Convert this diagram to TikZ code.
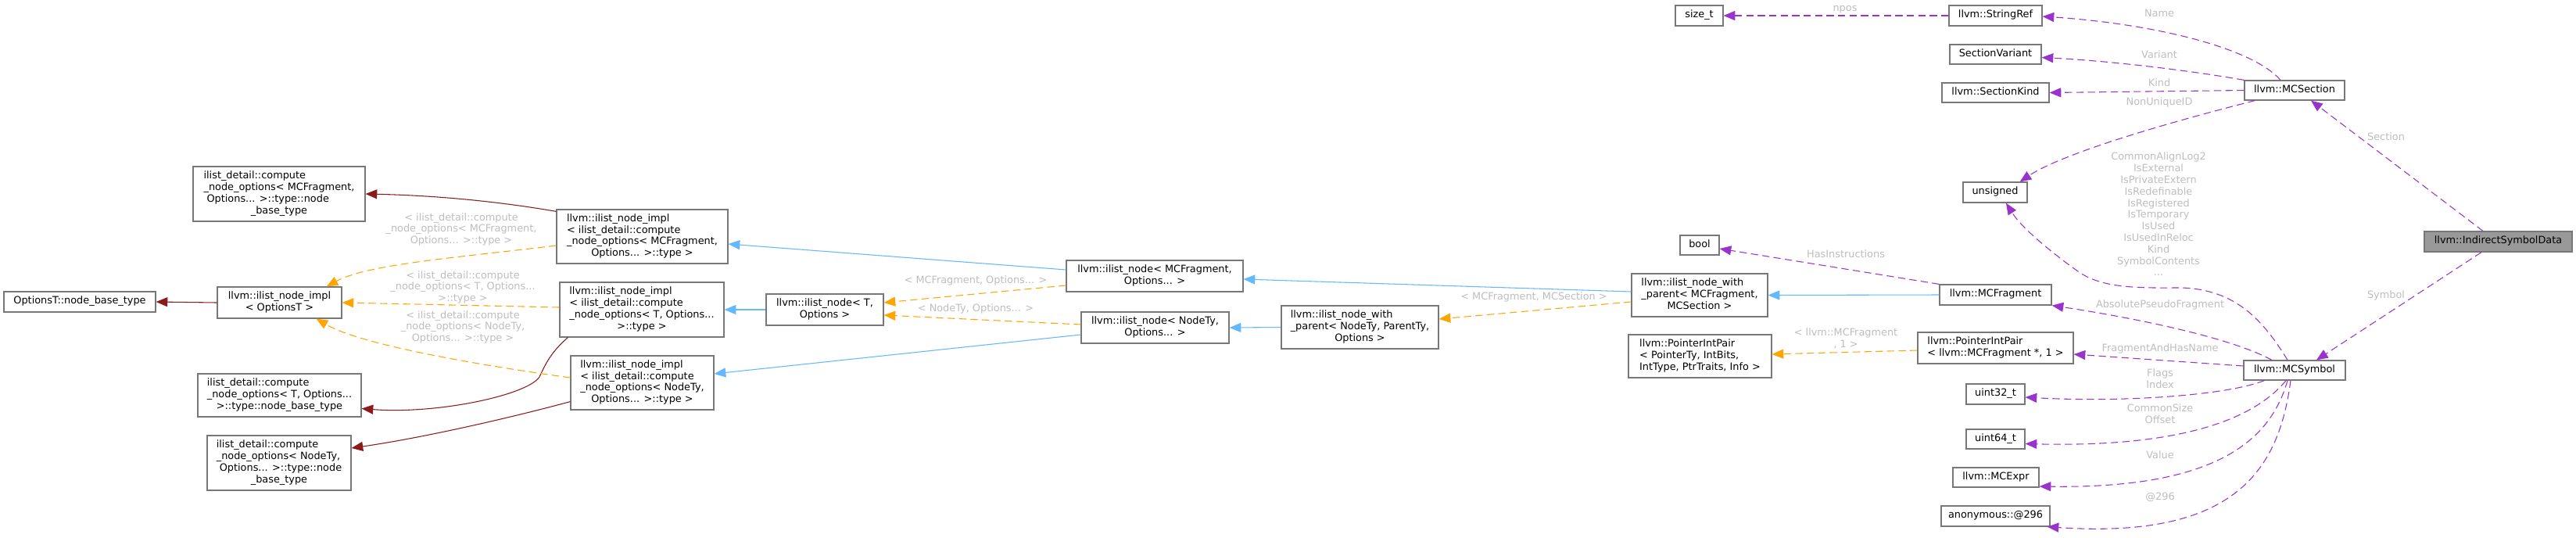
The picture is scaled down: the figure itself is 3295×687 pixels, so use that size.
\documentclass[tikz,border=0pt]{standalone}
\usepackage{fontspec}
\setmainfont{DejaVu Sans}
\usetikzlibrary{arrows.meta,calc}
\definecolor{bord}{HTML}{777777}
\definecolor{redE}{HTML}{8B1A1A}
\definecolor{blueE}{HTML}{63B8FF}
\definecolor{orangeE}{HTML}{FFA500}
\definecolor{purpleE}{HTML}{9A32CD}
\definecolor{labG}{HTML}{BEBEBE}
\definecolor{focus}{HTML}{999999}
\newcommand\dgfont{\fontsize{9.65}{11.1}\selectfont}
\newcommand\dlbl[2]{\begin{tabular}{@{}l@{}}#1\\\multicolumn{1}{@{}c@{}}{#2}\end{tabular}}
\newcommand\dctr[1]{\begin{tabular}{@{}c@{}}#1\end{tabular}}
\begin{document}
\begin{tikzpicture}[x=0.75pt,y=-0.75pt,font=\dgfont,
  box/.style={draw=bord, line width=0.9pt, fill=white, inner sep=0pt, align=center},
  wh/.style 2 args={minimum width={#1*0.75pt}, minimum height={#2*0.75pt}},
  lab/.style={text=labG, inner sep=0pt},
  edge/.style={line width=0.8pt, -{Triangle[length=11pt,width=9pt]}},
  er/.style={edge, draw=redE},
  eb/.style={edge, draw=blueE},
  eo/.style={edge, draw=orangeE, dash pattern=on 7pt off 4pt},
  ep/.style={edge, draw=purpleE, dash pattern=on 7pt off 4pt}]
\fill[white] (0,0) rectangle (3295,687);
\useasboundingbox (0,0) rectangle (3295,687);

% nodes
\node[box, wh={194}{26}] (optT) at (102,386) {\dctr{OptionsT::node\_base\_type}};
\node[box, wh={159}{40}] (implOpt) at (357.5,387) {\dlbl{llvm::ilist\_node\_impl}{< OptionsT >}};
\node[box, wh={220}{70}] (cmpF) at (357,248) {\dlbl{ilist\_detail::compute\\\_node\_options< MCFragment,\\\hspace{3pt}Options... >::type::node}{\_base\_type}};
\node[box, wh={209}{55}] (cmpT) at (357.5,505.5) {\dlbl{ilist\_detail::compute\\\_node\_options< T, Options...}{>::type::node\_base\_type}};
\node[box, wh={184}{70}] (cmpN) at (357,592) {\dlbl{ilist\_detail::compute\\\_node\_options< NodeTy,\\\hspace{3pt}Options... >::type::node}{\_base\_type}};
\node[box, wh={219}{69}] (implF) at (821.5,302.5) {\dlbl{llvm::ilist\_node\_impl\\< ilist\_detail::compute\\\_node\_options< MCFragment,}{Options... >::type >}};
\node[box, wh={210}{70}] (implT) at (821,396) {\dlbl{llvm::ilist\_node\_impl\\< ilist\_detail::compute\\\_node\_options< T, Options...}{>::type >}};
\node[box, wh={183}{69}] (implN) at (821.5,489.5) {\dlbl{llvm::ilist\_node\_impl\\< ilist\_detail::compute\\\_node\_options< NodeTy,}{Options... >::type >}};
\node[box, wh={150}{40}] (nodeT) at (1055,396) {\dlbl{llvm::ilist\_node< T,}{Options >}};
\node[box, wh={226}{40}] (nodeF) at (1477,353) {\dlbl{llvm::ilist\_node< MCFragment,}{Options... >}};
\node[box, wh={189}{40}] (nodeN) at (1477.5,419) {\dlbl{llvm::ilist\_node< NodeTy,}{Options... >}};
\node[box, wh={201}{55}] (wpN) at (1739.5,418.5) {\dlbl{llvm::ilist\_node\_with\\\_parent< NodeTy, ParentTy,}{Options >}};
\node[box, wh={174}{55}] (wpF) at (2174,377.5) {\dlbl{llvm::ilist\_node\_with\\\_parent< MCFragment,}{MCSection >}};
\node[box, wh={61}{26}] (sizet) at (2173.5,20) {\dctr{size\_t}};
\node[box, wh={50}{25}] (boolN) at (2174,313.5) {\dctr{bool}};
\node[box, wh={183}{55}] (pipG) at (2174.5,455.5) {\dlbl{llvm::PointerIntPair\\< PointerTy, IntBits,}{IntType, PtrTraits, Info >}};
\node[box, wh={119}{26}] (strref) at (2552.5,20) {\dctr{llvm::StringRef}};
\node[box, wh={117}{25}] (secvar) at (2552.5,69.5) {\dctr{SectionVariant}};
\node[box, wh={137}{25}] (seckind) at (2552.5,118.5) {\dctr{llvm::SectionKind}};
\node[box, wh={82}{26}] (unsig) at (2552,246) {\dctr{unsigned}};
\node[box, wh={143}{26}] (mcfrag) at (2552.5,377) {\dctr{llvm::MCFragment}};
\node[box, wh={199}{40}] (pipF) at (2552.5,445) {\dlbl{llvm::PointerIntPair}{< llvm::MCFragment *, 1 >}};
\node[box, wh={75}{26}] (u32) at (2552.5,504) {\dctr{uint32\_t}};
\node[box, wh={75}{25}] (u64) at (2552.5,561.5) {\dctr{uint64\_t}};
\node[box, wh={110}{25}] (mcexpr) at (2553,610.5) {\dctr{llvm::MCExpr}};
\node[box, wh={139}{26}] (anon) at (2552.5,660) {\dctr{anonymous::@296}};
\node[box, wh={128}{25}] (mcsec) at (2935,115.5) {\dctr{llvm::MCSection}};
\node[box, wh={130}{25}] (mcsym) at (2935,473.5) {\dctr{llvm::MCSymbol}};
\node[box, wh={189}{26}, fill=focus] (isd) at (3195.5,309) {\dctr{llvm::IndirectSymbolData}};

% red edges
\draw[er] (implOpt.west) -- (optT.east);
\draw[er] ($(implF.north west)+(0,3)$) .. controls (640,258) and (560,250) .. (cmpF.east);
\draw[er] ($(implT.south west)+(11,0)$) .. controls (705,450) and (698,465) .. (690,482) .. controls (675,505) and (560,530) .. ($(cmpT.east)+(0,17)$);
\draw[er] ($(implN.south west)+(0,-11)$) .. controls (650,535) and (540,560) .. ($(cmpN.east)+(0,-19)$);

% orange edges (left)
\draw[eo] ($(implF.west)+(0,11.5)$) .. controls (580,330) and (470,338) .. ($(implOpt.north east)+(-20,0)$);
\draw[eo] ($(implT.west)+(0,-3)$) -- (implOpt.east);
\draw[eo] ($(implN.west)+(0,-6.5)$) .. controls (600,465) and (460,440) .. ($(implOpt.south east)+(-33,0)$);

% blue edges
\draw[eb] ($(nodeF.west)+(0,-8)$) -- ($(implF.east)+(0,9.5)$);
\draw[eb] (nodeT.west) -- (implT.east);
\draw[eb] ($(nodeN.west)+(0,9)$) -- ($(implN.east)+(0,-11.5)$);
\draw[eb] (wpN.west) -- (nodeN.east);
\draw[eb] ($(wpF.west)+(0,-4.5)$) -- ($(nodeF.east)+(0,4)$);
\draw[eb] (mcfrag.west) -- (wpF.east);

% orange edges (middle)
\draw[eo] ($(nodeF.west)+(0,12)$) -- ($(nodeT.east)+(0,-9)$);
\draw[eo] ($(nodeN.west)+(0,-4)$) -- ($(nodeT.east)+(0,7)$);
\draw[eo] ($(wpF.west)+(0,8.5)$) -- ($(wpN.east)+(0,-10.5)$);
\draw[eo] ($(pipF.west)+(0,3)$) -- ($(pipG.east)+(0,-2.5)$);

% purple edges
\draw[ep] (strref.west) -- (sizet.east);
\draw[ep] ($(mcsec.north)+(-18,0)$) .. controls (2880,60) and (2750,30) .. ($(strref.east)+(0,1)$);
\draw[ep] (mcsec.north west) .. controls (2800,90) and (2700,78) .. ($(secvar.east)+(0,4)$);
\draw[ep] (mcsec.west) -- (seckind.east);
\draw[ep] ($(mcsec.south west)+(14,0)$) .. controls (2780,155) and (2640,195) .. ($(unsig.north east)+(-10,0)$);
\draw[ep] ($(isd.north)+(-19.5,0)$) -- ($(mcsec.south)+(21,0)$);
\draw[ep] ($(isd.south)+(-21.5,0)$) -- ($(mcsym.north)+(28,0)$);
\draw[ep] ($(mcsym.north)+(-9,0)$) .. controls (2895,410) and (2860,370) .. (2790,368) .. controls (2740,368) and (2690,370) .. (2658,347) .. controls (2620,320) and (2585,290) .. ($(unsig.south)+(14,0)$);
\draw[ep] ($(mcsym.north)+(-29,0)$) .. controls (2850,430) and (2720,405) .. (mcfrag.south east);
\draw[ep] ($(mcsym.west)+(0,-5.5)$) -- ($(pipF.east)+(0,8)$);
\draw[ep] ($(mcsym.south west)+(27,0)$) .. controls (2850,505) and (2720,515) .. ($(u32.east)+(0,4)$);
\draw[ep] ($(mcsym.south)+(-11,0)$) .. controls (2880,540) and (2780,572) .. ($(u64.east)+(0,6)$);
\draw[ep] ($(mcsym.south)+(-9,0)$) .. controls (2905,560) and (2840,625) .. ($(mcexpr.east)+(0,11.5)$);
\draw[ep] ($(mcsym.south)+(-5,0)$) .. controls (2915,600) and (2860,690) .. ($(anon.south east)+(-4,0)$);
\draw[ep] (mcfrag.north west) -- ($(boolN.east)+(0,4.5)$);

% labels
\node[lab] (l1) at (590,294) {\dctr{< ilist\_detail::compute\\\_node\_options< MCFragment,\\Options... >::type >}};
\node[lab] (l2) at (592,368) {\dctr{< ilist\_detail::compute\\\_node\_options< T, Options...\\>::type >}};
\node[lab] (l3) at (592,419) {\dctr{< ilist\_detail::compute\\\_node\_options< NodeTy,\\Options... >::type >}};
\node[lab] (l4) at (1248,360) {\dctr{< MCFragment, Options... >}};
\node[lab] (l5) at (1248,396) {\dctr{< NodeTy, Options... >}};
\node[lab] (l6) at (1962,381) {\dctr{< MCFragment, MCSection >}};
\node[lab] (l7) at (2361,434) {\dctr{< llvm::MCFragment\\*, 1 >}};
\node[lab] (l8) at (2360,12) {\dctr{npos}};
\node[lab] (l9) at (2361,327) {\dctr{HasInstructions}};
\node[lab] (l10) at (2762,19) {\dctr{Name}};
\node[lab] (l11) at (2762,72) {\dctr{Variant}};
\node[lab] (l12) at (2762,108) {\dctr{Kind}};
\node[lab] (l13) at (2762,132) {\dctr{NonUniqueID}};
\node[lab] (l14) at (2761,276) {\dctr{CommonAlignLog2\\IsExternal\\IsPrivateExtern\\IsRedefinable\\IsRegistered\\IsTemporary\\IsUsed\\IsUsedInReloc\\Kind\\SymbolContents\\...}};
\node[lab] (l15) at (2763,391) {\dctr{AbsolutePseudoFragment}};
\node[lab] (l16) at (2763,447) {\dctr{FragmentAndHasName}};
\node[lab] (l17) at (2763,486) {\dctr{Flags\\Index}};
\node[lab] (l18) at (2763,531) {\dctr{CommonSize\\Offset}};
\node[lab] (l19) at (2763,584) {\dctr{Value}};
\node[lab] (l20) at (2763,637) {\dctr{@296}};
\node[lab] (l21) at (3052,177) {\dctr{Section}};
\node[lab] (l22) at (3052,379) {\dctr{Symbol}};
\end{tikzpicture}
\end{document}
